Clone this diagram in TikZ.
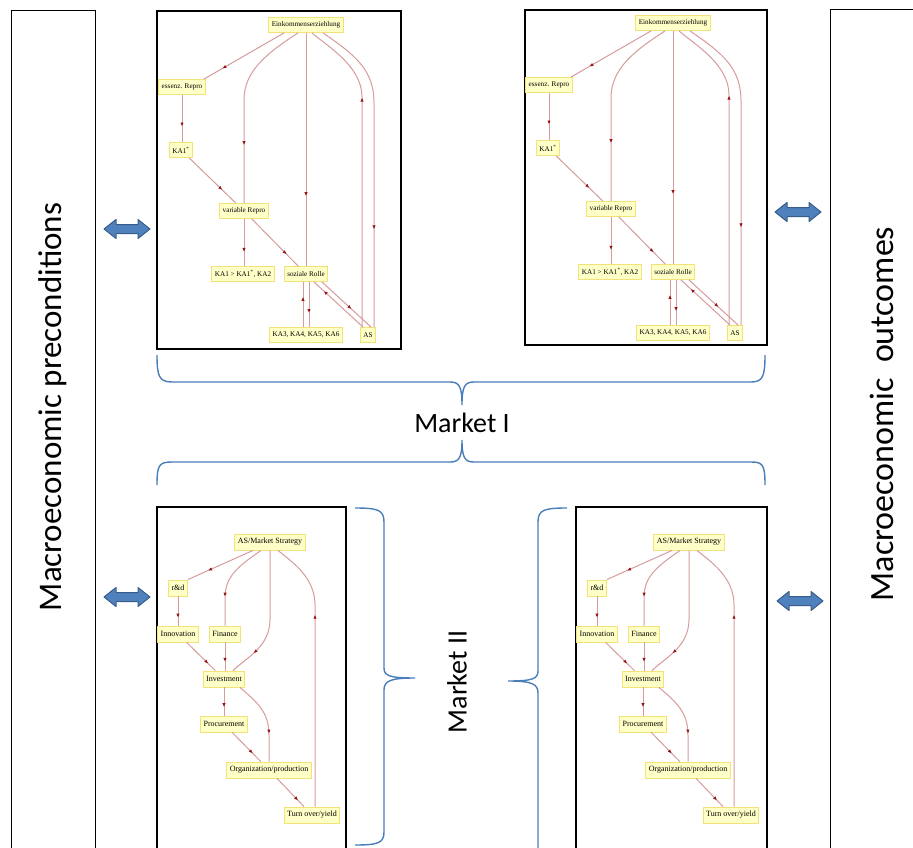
\documentclass[tikz,border=0pt]{standalone}
\usepackage{fontspec}
\usepackage{tikz}
\usetikzlibrary{arrows.meta,decorations.markings,calc}
\newfontfamily\graphfont{Liberation Serif}
\newfontfamily\labelfont{Carlito}
\definecolor{edgecol}{RGB}{214,155,155}
\definecolor{tipcol}{RGB}{150,20,20}
\definecolor{notefill}{RGB}{255,255,200}
\definecolor{noterim}{RGB}{242,226,120}
\definecolor{bracecol}{RGB}{74,126,187}
\definecolor{arrowblue}{RGB}{79,129,189}
\definecolor{arrowrim}{RGB}{56,93,138}
\tikzset{
  gnode/.style={draw=noterim, fill=notefill, line width=0.9pt, inner xsep=3pt, inner ysep=1pt, minimum height=15pt, font=\graphfont\fontsize{7.2}{8}\selectfont},
  bnode/.style={gnode, minimum height=16pt, font=\graphfont\fontsize{8}{9}\selectfont},
  link/.style={draw=edgecol, line width=1pt, postaction={decorate, decoration={markings, mark=at position #1 with {\arrow{Latex[length=4pt,width=3.4pt,color=tipcol]}}}}},
  link/.default=0.7,
  frame/.style={draw=black, line width=1.2pt},
  panel/.style={draw=black, line width=1pt},
  duplex/.style={draw=arrowrim, fill=arrowblue, line width=1pt, line join=round},
  curly/.style={draw=bracecol, line width=1.4pt},
  bigtext/.style={font=\labelfont\fontsize{33}{36}\selectfont, inner sep=0pt},
  midtext/.style={font=\labelfont\fontsize{28}{30}\selectfont, inner sep=0pt},
}

% two-headed block arrow centred at (#1,#2)
\newcommand{\swaparrow}[2]{%
  \filldraw[duplex] (#1,#2) ++(-23,0) -- ++(12,-9.5) -- ++(0,5) -- ++(22,0) -- ++(0,-5)
    -- ++(12,9.5) -- ++(-12,9.5) -- ++(0,-5) -- ++(-22,0) -- ++(0,5) -- cycle;
}

% Market I graph, #1 = name prefix
\newcommand{\incomegraph}[1]{%
  \node[gnode] (#1ek) at (149,14) {Einkommenserziehlung};
  \node[gnode] (#1er) at (25,76) {essenz. Repro};
  \node[gnode] (#1ka) at (24,139) {KA1\textsuperscript{*}};
  \node[gnode] (#1vr) at (87,200) {variable Repro};
  \node[gnode] (#1kg) at (86,263) {KA1 > KA1\textsuperscript{*}, KA2};
  \node[gnode] (#1sr) at (149,263) {soziale Rolle};
  \node[gnode] (#1k3) at (149,324) {KA3, KA4, KA5, KA6};
  \node[gnode] (#1as) at (211,324) {AS};
  \draw[link=0.77] ([xshift=-22pt]#1ek.south) -- ([xshift=22pt]#1er.north);
  \draw[link=0.67] (#1er.south) -- (#1er.south |- #1ka.north);
  \draw[link=0.71] (#1ka) -- (#1vr);
  \draw[link=0.7] ([xshift=-8pt]#1ek.south) .. controls (110,42) and (87,60) .. (87,89) -- (#1vr.north);
  \draw[link] (#1vr.south) -- (#1vr.south |- #1kg.north);
  \draw[link=0.75] (#1vr) -- (#1sr);
  \draw[link] (#1ek) -- (#1sr);
  \draw[link=0.67] ([xshift=-3pt]#1k3.north) -- ([xshift=-3pt]#1sr.south);
  \draw[link=0.69] ([xshift=3pt]#1sr.south) -- ([xshift=3pt]#1k3.north);
  \draw[link=0.8] ([xshift=-5pt]#1as.north) -- ([xshift=8pt]#1sr.south);
  \draw[link=0.6] ([xshift=16pt]#1sr.south) -- ([xshift=3pt]#1as.north);
  \draw[link=0.73] ([xshift=-6pt]#1as.north) -- (205,86) .. controls (205,55) and (170,35) .. ([xshift=6pt]#1ek.south);
  \draw[link=0.69] ([xshift=17pt]#1ek.south) .. controls (200,45) and (217,60) .. (217,92) -- ([xshift=6pt]#1as.north);
}

% Market II graph, #1 = name prefix
\newcommand{\strategygraph}[1]{%
  \node[bnode] (#1ms) at (113,35) {AS/Market Strategy};
  \node[bnode] (#1rd) at (21,81) {r\&d};
  \node[bnode] (#1in) at (21,127) {Innovation};
  \node[bnode] (#1fi) at (68,127) {Finance};
  \node[bnode] (#1iv) at (67,172) {Investment};
  \node[bnode] (#1pr) at (67,217) {Procurement};
  \node[bnode] (#1op) at (112,263) {Organization/production};
  \node[bnode] (#1ty) at (155,308) {Turn over/yield};
  \draw[link=0.69] ([xshift=-17pt]#1ms.south) -- (#1rd.north east);
  \draw[link=0.73] (#1rd.south) -- (#1rd.south |- #1in.north);
  \draw[link=0.68] ([xshift=-9pt]#1ms.south) .. controls (80,60) and (68,70) .. (68,91) -- (#1fi.north);
  \draw[link=0.69] (#1fi.south) -- (#1fi.south |- #1iv.north);
  \draw[link=0.75] (#1in) -- (#1iv);
  \draw[link=0.8] (#1ms.south) -- (113,112) .. controls (113,140) and (90,150) .. ([xshift=9pt]#1iv.north);
  \draw[link=0.71] ([xshift=3pt]#1ty.north) -- (158,98) .. controls (158,70) and (135,55) .. ([xshift=8pt]#1ms.south);
  \draw[link] (#1iv.south) -- (#1iv.south |- #1pr.north);
  \draw[link=0.67] ([xshift=16pt]#1iv.south) .. controls (100,195) and (112,205) .. (112,228) -- (#1op.north);
  \draw[link=0.72] (#1pr) -- (#1op);
  \draw[link=0.78] (#1op) -- (#1ty);
}

\begin{document}
\begin{tikzpicture}[x=1pt,y=-1pt]
  \useasboundingbox (0,0) rectangle (913,848);
  % side panels
  \draw[panel] (11,11) rectangle (95,860);
  \draw[panel] (830,10) rectangle (930,860);
  \node[bigtext, rotate=90] (pre) at (53,407) {Macroeconomic preconditions};
  \node[bigtext, rotate=90, font=\labelfont\fontsize{34}{36}\selectfont] (out) at (882,414) {Macroeconomic\ \ outcomes};
  % market boxes
  \draw[frame] (157,11) rectangle (401,349);
  \draw[frame] (525,10) rectangle (767,345);
  \draw[frame] (157,507) rectangle (346,860);
  \draw[frame] (576,507) rectangle (767,860);
  \begin{scope}[shift={(157,11)}] \incomegraph{a} \end{scope}
  \begin{scope}[shift={(524,9)}] \incomegraph{b} \end{scope}
  \begin{scope}[shift={(157,507)}] \strategygraph{c} \end{scope}
  \begin{scope}[shift={(576,507)}] \strategygraph{d} \end{scope}
  % exchange arrows
  \swaparrow{127}{229}
  \swaparrow{127}{597}
  \swaparrow{798}{212}
  \swaparrow{800}{601}
  % Market I braces
  \draw[curly] (157,355) .. controls (157,376) and (159,382) .. (172,382) -- (450,382) .. controls (459,382) and (462,386) .. (462,405) .. controls (462,386) and (465,382) .. (474,382) -- (751,382) .. controls (763,382) and (765,376) .. (765,355);
  \draw[curly] (157,485) .. controls (157,465) and (159,462) .. (172,462) -- (450,462) .. controls (459,462) and (462,458) .. (462,440) .. controls (462,458) and (465,462) .. (474,462) -- (751,462) .. controls (763,462) and (765,465) .. (765,485);
  \node[midtext] (m1) at (462,423) {Market I};
  % Market II braces
  \draw[curly] (355,508) .. controls (378,508) and (384,510) .. (384,522) -- (384,668) .. controls (384,676) and (390,678) .. (415,678) .. controls (390,678) and (384,681) .. (384,690) -- (384,832) .. controls (384,843) and (378,845) .. (355,845);
  \draw[curly] (567,508) .. controls (544,508) and (538,510) .. (538,522) -- (538,671) .. controls (538,679) and (532,681) .. (508,681) .. controls (532,681) and (538,684) .. (538,693) -- (538,860);
  \node[midtext, rotate=90] (m2) at (457,682) {Market II};
\end{tikzpicture}
\end{document}
